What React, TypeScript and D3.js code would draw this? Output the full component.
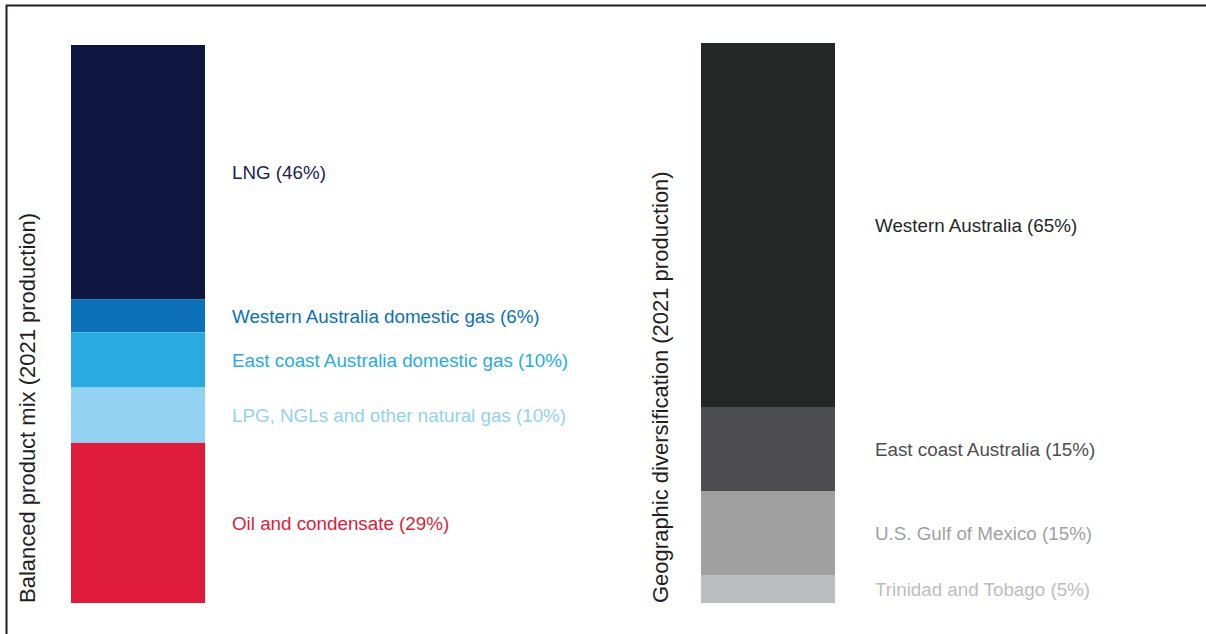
import React, { useEffect, useRef } from "react";
import * as d3 from "d3";

// product mix (left bar)
const productLabels = [
  "LNG",
  "Western Australia domestic gas",
  "East coast Australia domestic gas",
  "LPG, NGLs and other natural gas",
  "Oil and condensate",
];
const productShares = [46, 6, 10, 10, 29];
const productColors = ["#0f1740", "#0b70b7", "#29abe2", "#92d1f1", "#dc1c3a"];
const productTextColors = ["#1b2250", "#0b70b7", "#29abe2", "#92d1f1", "#dc1c3a"];

// geographic split (right bar)
const geoLabels = [
  "Western Australia",
  "East coast Australia",
  "U.S. Gulf of Mexico",
  "Trinidad and Tobago",
];
const geoShares = [65, 15, 15, 5];
const geoColors = ["#262727", "#4d4d4f", "#a0a0a1", "#bcbdbe"];

const titles = [
  "Balanced product mix (2021 production)",
  "Geographic diversification (2021 production)",
];

const W = 1206;
const H = 634;
const FONT = "'Liberation Sans', Arial, Helvetica, sans-serif";

const App = () => {
  const ref: any = useRef(null);

  useEffect(() => {
    const svg = d3.select(ref.current);
    svg.selectAll("*").remove();

    // frame: top and left rule only
    svg
      .append("path")
      .attr("d", `M6.5,${H} V5.5 H${W}`)
      .attr("fill", "none")
      .attr("stroke", "#231f20")
      .attr("stroke-width", 2);

    const drawBar = (
      shares: number[],
      labels: string[],
      colors: string[],
      textColors: string[],
      x0: number,
      y0: number,
      y1: number,
      labelGap: number,
      title: string,
      titleX: number
    ) => {
      const total = d3.sum(shares);
      const y = d3.scaleLinear().domain([0, total]).range([y0, y1]);
      const x = d3.scaleLinear().domain([0, 1]).range([x0, x0 + 134]);
      const cum = d3.cumsum(shares);
      const segs = shares.map((v, i) => ({
        start: cum[i] - v,
        end: cum[i],
        label: `${labels[i]} (${v}%)`,
        color: colors[i],
        textColor: textColors[i],
      }));

      const g = svg.append("g");
      g.selectAll("rect")
        .data(segs)
        .join("rect")
        .attr("x", x(0))
        .attr("width", x(1) - x(0))
        .attr("y", (d) => y(d.start))
        .attr("height", (d) => y(d.end) - y(d.start))
        .attr("fill", (d) => d.color);

      g.selectAll("text.lbl")
        .data(segs)
        .join("text")
        .attr("class", "lbl")
        .attr("x", x(1) + labelGap)
        .attr("y", (d) => (y(d.start) + y(d.end)) / 2)
        .attr("dy", "0.38em")
        .attr("fill", (d) => d.textColor)
        .style("font-family", FONT)
        .style("font-size", "18.8px")
        .text((d) => d.label);

      svg
        .append("text")
        .attr("transform", `translate(${titleX},${y1}) rotate(-90)`)
        .attr("fill", "#231f20")
        .style("font-family", FONT)
        .style("font-size", "22px")
        .text(title);
    };

    drawBar(
      productShares,
      productLabels,
      productColors,
      productTextColors,
      71,
      45,
      603,
      27,
      titles[0],
      35
    );
    drawBar(geoShares, geoLabels, geoColors, geoColors, 701, 43, 603, 40, titles[1], 668);
  }, []);

  return (
    <svg
      ref={ref}
      width={W}
      height={H}
      style={{ position: "absolute", left: 0, top: 0, background: "#fff" }}
    />
  );
};

export default App;
